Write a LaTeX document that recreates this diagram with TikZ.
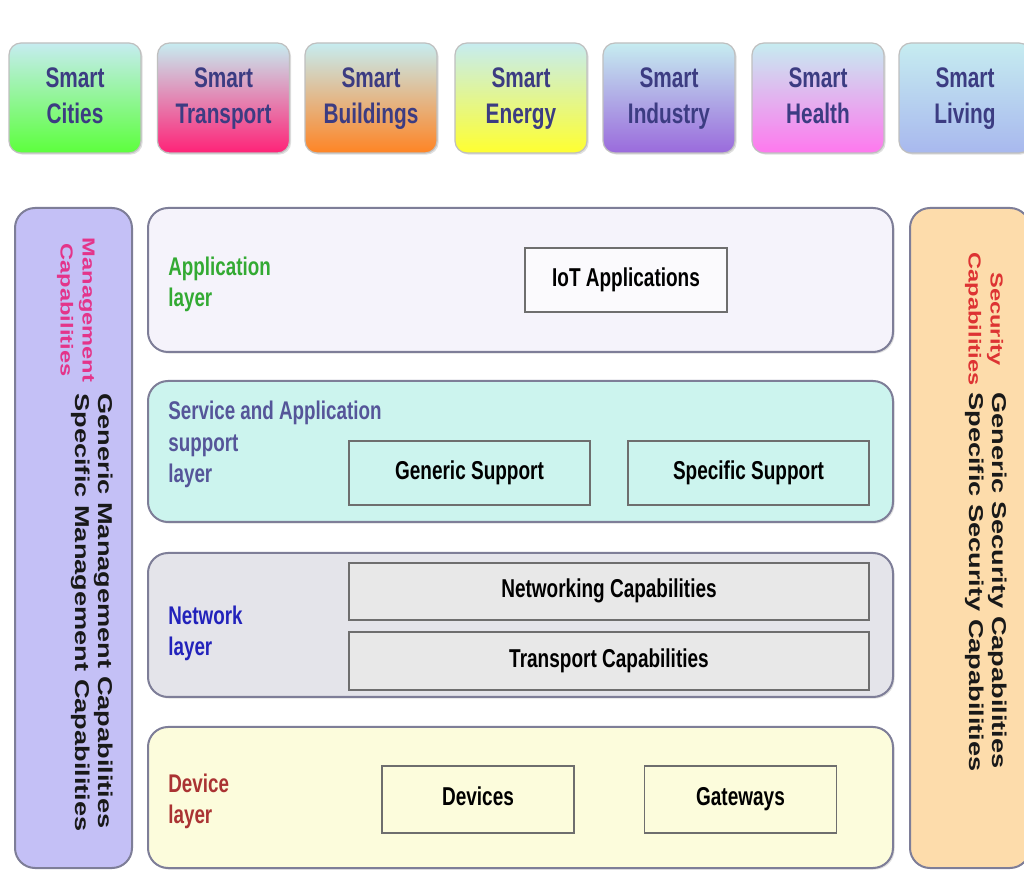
\documentclass[tikz,border=0pt]{standalone}
\usepackage{fontspec}
\setmainfont{Liberation Sans}
\usetikzlibrary{shadows}

\definecolor{topcyan}{HTML}{C6ECF0}
\definecolor{smarttext}{HTML}{3C3C82}
\definecolor{citygreen}{HTML}{5CFF3C}
\definecolor{transportred}{HTML}{FF2277}
\definecolor{buildorange}{HTML}{FF8424}
\definecolor{energyyellow}{HTML}{FFFF30}
\definecolor{industrypurple}{HTML}{9A6ADC}
\definecolor{healthpink}{HTML}{FF78EE}
\definecolor{livingblue}{HTML}{A8B8EE}
\definecolor{layerline}{HTML}{7E7E98}
\definecolor{boxline}{HTML}{6E6E6E}
\definecolor{appfill}{HTML}{F5F3FB}
\definecolor{servicefill}{HTML}{CCF4EE}
\definecolor{networkfill}{HTML}{E4E4EA}
\definecolor{devicefill}{HTML}{FCFCDC}
\definecolor{mgmtfill}{HTML}{C4C0F6}
\definecolor{secfill}{HTML}{FDDCAB}
\definecolor{appgreen}{HTML}{33AA33}
\definecolor{servicepurple}{HTML}{555599}
\definecolor{networkblue}{HTML}{2222BB}
\definecolor{devicered}{HTML}{AA3333}
\definecolor{mgmtpink}{HTML}{E4348A}
\definecolor{secred}{HTML}{DD3333}

% text is stretched upward like the original figure
\newcommand{\ctext}[1]{\scalebox{1}[1.36]{\begin{tabular}{@{}c@{}}#1\end{tabular}}}
\newcommand{\ltext}[1]{\scalebox{1}[1.36]{\begin{tabular}{@{}l@{}}#1\end{tabular}}}
\newcommand{\vtext}[2]{\scalebox{1.36}[1]{\begin{tabular}{@{}#1@{}}#2\end{tabular}}}

\tikzset{
  smartbox/.style={rounded corners=6pt, draw=gray!50, line width=0.6pt,
    minimum width=66pt, minimum height=55pt, top color=topcyan, text=smarttext,
    font=\fontsize{10.4}{13.2}\selectfont\bfseries,
    drop shadow={shadow xshift=0.8pt, shadow yshift=-0.8pt, opacity=0.25}},
  layer/.style={rounded corners=10pt, draw=layerline, line width=1pt,
    minimum width=372.5pt,
    drop shadow={shadow xshift=0.8pt, shadow yshift=-0.8pt, opacity=0.25}},
  sidepanel/.style={rounded corners=10pt, draw=layerline, line width=1pt,
    minimum height=330pt},
  capbox/.style={draw=boxline, line width=0.7pt, text=black,
    font=\fontsize{9.5}{11.5}\selectfont\bfseries},
  layerlabel/.style={anchor=west, inner sep=0pt,
    font=\fontsize{9.4}{11.2}\selectfont\bfseries},
  sidecap/.style={rotate=-90, inner sep=0pt,
    font=\fontsize{8.7}{11}\selectfont\bfseries},
  sidetext/.style={rotate=-90, anchor=west, inner sep=0pt, text=black!90,
    font=\fontsize{10}{11.5}\selectfont\bfseries},
}

\begin{document}
\begin{tikzpicture}[x=0.5pt, y=-0.5pt]
\clip (0,0) rectangle (1024,871);
\fill[white] (0,0) rectangle (1024,871);

% Application domains
\node[smartbox, bottom color=citygreen] (cities) at (75,98) {\ctext{Smart\\Cities}};
\node[smartbox, bottom color=transportred] (transport) at (223.5,98) {\ctext{Smart\\Transport}};
\node[smartbox, bottom color=buildorange] (buildings) at (371,98) {\ctext{Smart\\Buildings}};
\node[smartbox, bottom color=energyyellow] (energy) at (521,98) {\ctext{Smart\\Energy}};
\node[smartbox, bottom color=industrypurple] (industry) at (669,98) {\ctext{Smart\\Industry}};
\node[smartbox, bottom color=healthpink] (health) at (818,98) {\ctext{Smart\\Health}};
\node[smartbox, bottom color=livingblue] (living) at (965,98) {\ctext{Smart\\Living}};

% Side panels
\node[sidepanel, fill=mgmtfill, minimum width=58.5pt] (mgmtpanel) at (73.5,538) {};
\node[sidepanel, fill=secfill, minimum width=60pt] (secpanel) at (970,538) {};

\node[sidecap, text=mgmtpink] (mgmt) at (76,310) {\vtext{c}{Management\\Capabilities}};
\node[sidetext] (mgmtlist) at (91.5,393) {\vtext{l}{Generic Management Capabilities\\Specific Management Capabilities}};
\node[sidecap, text=secred] (sec) at (984,319) {\vtext{c}{Security\\Capabilities}};
\node[sidetext] (seclist) at (986,392) {\vtext{l}{Generic Security Capabilities\\Specific Security Capabilities}};

% Layers
\node[layer, fill=appfill, minimum height=72pt] (applayer) at (520.5,280) {};
\node[layer, fill=servicefill, minimum height=70.5pt] (servicelayer) at (520.5,451.5) {};
\node[layer, fill=networkfill, minimum height=72pt] (networklayer) at (520.5,625) {};
\node[layer, fill=devicefill, minimum height=70.5pt] (devicelayer) at (520.5,797.5) {};

\node[layerlabel, text=appgreen] (applabel) at (168,285) {\ltext{Application\\layer}};
\node[layerlabel, text=servicepurple, font=\fontsize{9.4}{11.6}\selectfont\bfseries] (servicelabel) at (168,445) {\ltext{Service and Application\\support\\layer}};
\node[layerlabel, text=networkblue] (networklabel) at (168,634) {\ltext{Network\\layer}};
\node[layerlabel, text=devicered] (devicelabel) at (168,802) {\ltext{Device\\layer}};

% Capabilities inside the layers
\node[capbox, fill=white!60!appfill, minimum width=101pt, minimum height=32pt] (iotapps) at (626,280) {\ctext{IoT Applications}};
\node[capbox, minimum width=120.5pt, minimum height=32pt] (generic) at (469.5,473) {\ctext{Generic Support}};
\node[capbox, minimum width=120.5pt, minimum height=32pt] (specific) at (748.5,473) {\ctext{Specific Support}};
\node[capbox, fill=gray!18, minimum width=260pt, minimum height=28.5pt] (networking) at (609,591.5) {\ctext{Networking Capabilities}};
\node[capbox, fill=gray!18, minimum width=260pt, minimum height=29pt] (transportcap) at (609,661) {\ctext{Transport Capabilities}};
\node[capbox, minimum width=96pt, minimum height=33.5pt] (devices) at (478,799.5) {\ctext{Devices}};
\node[capbox, minimum width=96pt, minimum height=33.5pt] (gateways) at (740.5,799.5) {\ctext{Gateways}};
\end{tikzpicture}
\end{document}
